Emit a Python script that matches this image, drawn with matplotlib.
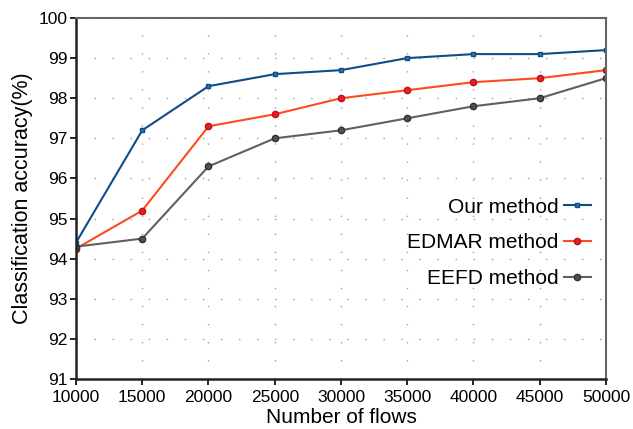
import matplotlib
matplotlib.use("Agg")
import matplotlib.pyplot as plt

flows = [10000, 15000, 20000, 25000, 30000, 35000, 40000, 45000, 50000]
our = [94.4, 97.2, 98.3, 98.6, 98.7, 99.0, 99.1, 99.1, 99.2]
edmar = [94.25, 95.2, 97.3, 97.6, 98.0, 98.2, 98.4, 98.5, 98.7]
eefd = [94.3, 94.5, 96.3, 97.0, 97.2, 97.5, 97.8, 98.0, 98.5]
labels = ["Our method", "EDMAR method", "EEFD method"]

plt.rcParams['font.family'] = ['Liberation Sans', 'DejaVu Sans']
fig = plt.figure(figsize=(6.33, 4.29), dpi=100)
ax = fig.add_axes([76/633, 1-379/429, 530/633, 361/429])

ax.plot(flows, our, color='#0f4c8a', lw=1.5, marker='s', ms=3, mfc='#3a6ea8', mec='#0f4c8a', label=labels[0])
ax.plot(flows, edmar, color='#ff4a1f', lw=1.5, marker='o', ms=4.5, mfc='#e0202a', mec='#c01010', label=labels[1])
ax.plot(flows, eefd, color='#606060', lw=1.5, marker='o', ms=4.5, mfc='#505050', mec='#303030', label=labels[2])

ax.set_xlim(10000, 50000)
ax.set_ylim(91, 100)
ax.set_xticks(flows)
ax.set_yticks(range(91, 101))
ax.grid(True, color='#a0a0a0', linestyle=(0, (1, 12)), lw=1)
ax.tick_params(labelsize=12.5, direction='out', length=4, width=1.2)
ax.tick_params(axis='y', pad=2)
ax.tick_params(axis='x', pad=4)
for s in ['left', 'bottom']:
    ax.spines[s].set_linewidth(1.8)
    ax.spines[s].set_color('#222222')
for s in ['top', 'right']:
    ax.spines[s].set_linewidth(1.5)
    ax.spines[s].set_color('#666666')
ax.set_xlabel("Number of flows", fontsize=15, labelpad=2)
ax.set_ylabel("Classification accuracy(%)", fontsize=15.5, labelpad=4)
leg = ax.legend(loc='center right', bbox_to_anchor=(0.995, 0.377), frameon=False, markerfirst=False,
                fontsize=15, handlelength=1.3, labelspacing=0.8, handletextpad=0.25, borderaxespad=0.2)
fig.savefig("out.png", dpi=100)
